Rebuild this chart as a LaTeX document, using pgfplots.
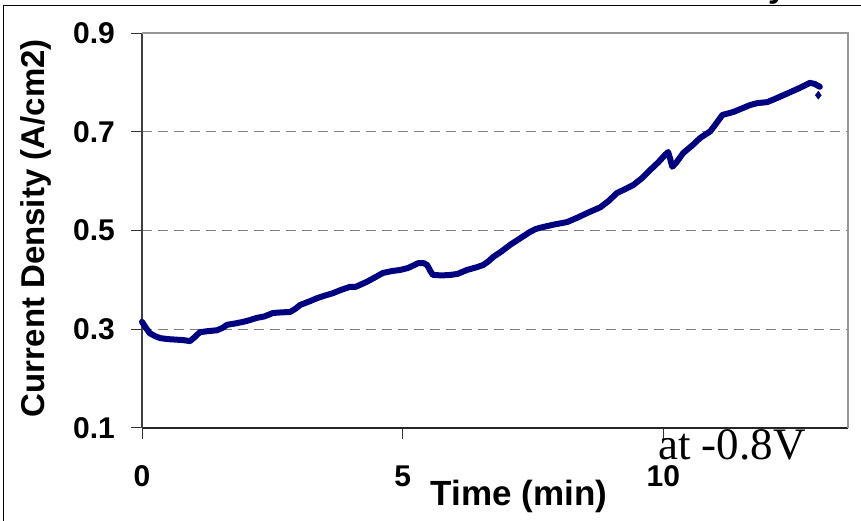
\documentclass[border=0pt]{standalone}
\usepackage{pgfplots}
\pgfplotsset{compat=1.18}
\usepackage{fontspec}
\setmainfont{Liberation Sans}
\newfontfamily\timesfont{Liberation Serif}
\definecolor{navyline}{RGB}{0,0,128}
\definecolor{gridgray}{RGB}{128,128,128}
\definecolor{boxgray}{RGB}{150,150,150}
\begin{document}
\begin{tikzpicture}
\path[use as bounding box, clip] (0,0) rectangle (861bp,521bp);
\fill[white] (0,0) rectangle (861bp,521bp);
\draw[line width=1.5bp, black] (3.5bp,-20bp) rectangle (900bp,515.5bp);
\node[anchor=base west, inner sep=0pt, font=\bfseries\fontsize{33bp}{36bp}\selectfont] at (768bp,523bp) {y};
\begin{axis}[
  at={(142bp,93bp)}, anchor=south west,
  scale only axis, width=706bp, height=395bp,
  xmin=0, xmax=13.54, ymin=0.1, ymax=0.9,
  axis x line*=bottom, axis y line*=left,
  x axis line style={line width=1.2bp, black!85, -},
  y axis line style={line width=1.2bp, black!75, -},
  xtick={0,5,10}, ytick={0.1,0.3,0.5,0.7,0.9},
  tick align=outside,
  major tick length=11bp,
  tick style={line width=1bp, black!80},
  yticklabels={0.1,0.3,0.5,0.7,0.9},
  xticklabels={0,5,10},
  /pgf/number format/assume math mode=true,
  yticklabel style={font=\bfseries\fontsize{30bp}{32bp}\selectfont, anchor=east, inner sep=0pt, xshift=-16bp},
  xticklabel style={font=\bfseries\fontsize{30bp}{32bp}\selectfont, anchor=center, inner sep=0pt, yshift=-37bp},
  ymajorgrids=true,
  grid style={gridgray, dash pattern=on 10bp off 6bp, line width=0.9bp},
  xlabel={Time (min)},
  ylabel={Current Density (A/cm2)},
  xlabel style={font=\bfseries\fontsize{35bp}{38bp}\selectfont, at={(axis description cs:0.534,-0.195)}, anchor=base, inner sep=0pt},
  ylabel style={font=\bfseries\fontsize{33bp}{36bp}\selectfont, at={(axis description cs:-0.1374,0.506)}, anchor=base, rotate=0, inner sep=0pt},
  clip=false,
]
\draw[boxgray, line width=1.2bp] (rel axis cs:0,1) -- (rel axis cs:1,1) -- (rel axis cs:1,0);
\addplot[navyline, line width=6bp, line join=round, line cap=round] coordinates {
(0,0.315) (0.08,0.302) (0.15,0.292) (0.25,0.286) (0.35,0.282) (0.5,0.280)
(0.65,0.279) (0.79,0.278) (0.92,0.276) (1.0,0.283) (1.11,0.294) (1.25,0.296)
(1.44,0.298) (1.55,0.303) (1.63,0.309) (1.8,0.312) (1.94,0.315) (2.05,0.318)
(2.2,0.323) (2.35,0.326) (2.51,0.333) (2.65,0.334) (2.84,0.335) (2.95,0.342)
(3.03,0.349) (3.2,0.356) (3.36,0.363) (3.5,0.368) (3.66,0.373) (3.8,0.379)
(3.99,0.386) (4.1,0.386) (4.31,0.396) (4.45,0.404) (4.62,0.414) (4.8,0.418)
(4.95,0.420) (5.1,0.424) (5.3,0.434) (5.4,0.434) (5.47,0.430) (5.53,0.418)
(5.58,0.410) (5.75,0.409) (5.91,0.410) (6.05,0.412) (6.23,0.420) (6.4,0.425)
(6.54,0.430) (6.65,0.438) (6.73,0.446) (6.9,0.458) (7.06,0.471) (7.25,0.484)
(7.44,0.497) (7.55,0.503) (7.69,0.507) (7.9,0.512) (8.15,0.517) (8.35,0.526)
(8.55,0.536) (8.79,0.547) (8.95,0.560) (9.11,0.576) (9.25,0.583) (9.42,0.592)
(9.6,0.607) (9.74,0.622) (9.9,0.638) (10.03,0.653) (10.09,0.659) (10.13,0.645)
(10.17,0.629) (10.25,0.638) (10.38,0.657) (10.55,0.672) (10.7,0.687) (10.9,0.701)
(11.0,0.715) (11.13,0.734) (11.34,0.740) (11.5,0.747) (11.66,0.754) (11.8,0.758)
(11.99,0.760) (12.15,0.767) (12.3,0.774) (12.45,0.781) (12.62,0.789) (12.81,0.799)
(12.9,0.797) (13.0,0.791)
};
\addplot[only marks, mark=diamond*, mark size=4bp, navyline] coordinates {(12.97,0.774)};
\end{axis}
\node[anchor=base west, inner sep=0pt, font=\timesfont\fontsize{45bp}{48bp}\selectfont] at (658bp,61bp) {at -0.8V};
\end{tikzpicture}
\end{document}
